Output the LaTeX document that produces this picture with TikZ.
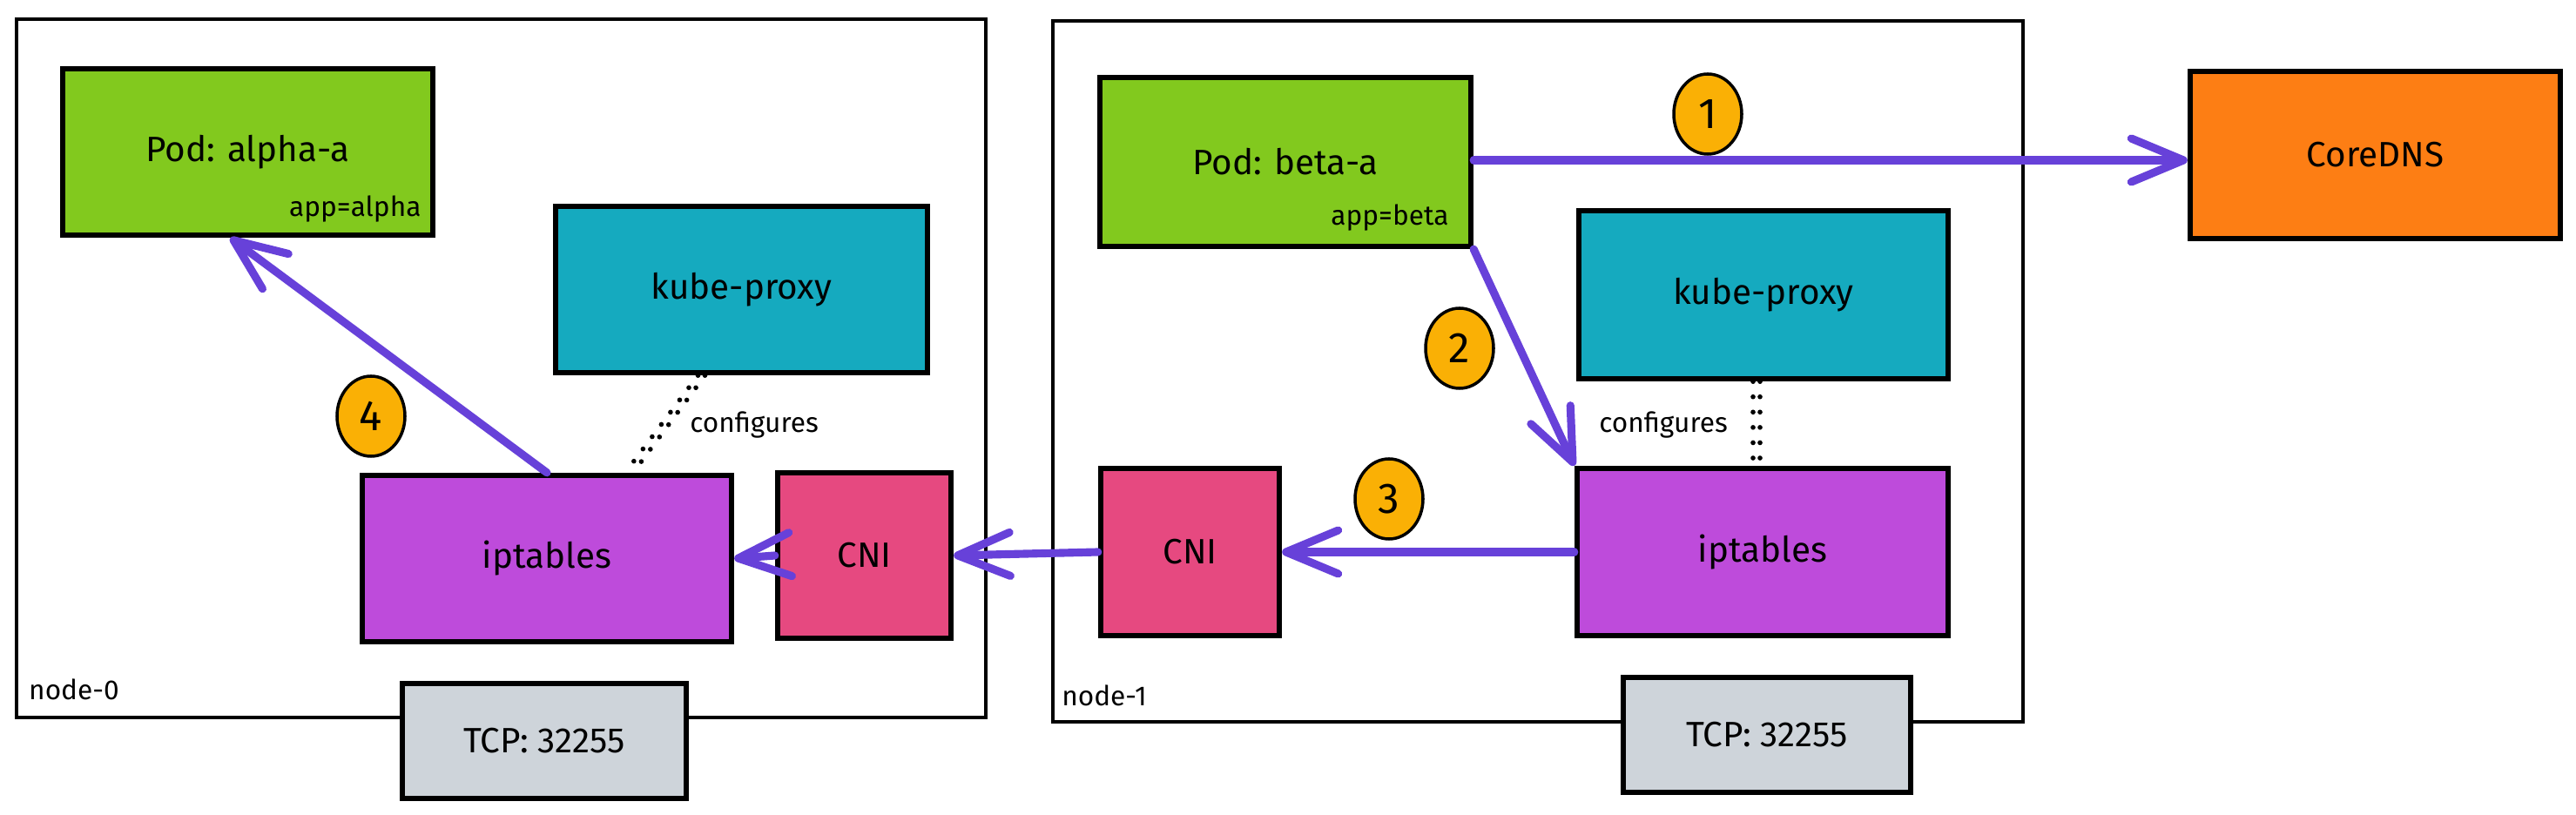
\documentclass[tikz,border=0pt]{standalone}
\usepackage{fontspec}
\setmainfont{Fira Sans}
\usetikzlibrary{arrows.meta,shapes.geometric}
\definecolor{podgreen}{HTML}{82C91E}
\definecolor{proxyteal}{HTML}{15AABF}
\definecolor{iptpurple}{HTML}{BE4BDB}
\definecolor{cnipink}{HTML}{E64980}
\definecolor{dnsorange}{HTML}{FD7E14}
\definecolor{portgray}{HTML}{CED4DA}
\definecolor{stepyellow}{HTML}{FAB005}
\definecolor{flowviolet}{HTML}{6741D9}

\begin{document}
\begin{tikzpicture}[
		hostbox/.style={draw, line width=1.2pt, inner sep=0pt},
		compbox/.style={draw, line width=1.8pt, inner sep=0pt, font=\fontsize{11.5}{14}\selectfont},
		smalltext/.style={inner sep=0pt, font=\fontsize{9}{11}\selectfont},
		badge/.style={ellipse, draw, line width=1pt, fill=stepyellow, minimum width=0.78cm, minimum height=0.92cm, inner sep=0pt, font=\fontsize{14}{16}\selectfont},
		flow/.style={line width=2.6pt, color=flowviolet, line cap=round, -{Straight Barb[round, length=6mm, width=5mm]}},
		configline/.style={line width=1.6pt, line cap=round, dash pattern=on 0pt off 5pt}
	]
			%%%%% START %%%%%
			\useasboundingbox (0, 0) rectangle (29.58, -9.36);
			
			% hosts
			\node[hostbox, minimum width=11.13cm, minimum height=8.02cm] (host0) at (5.755, -4.23) {};
			\node[hostbox, minimum width=11.14cm, minimum height=8.05cm] (host1) at (17.66, -4.265) {};
			\node[smalltext] (host0name) at (0.85, -7.92) {node-0};
			\node[smalltext] (host1name) at (12.68, -7.99) {node-1};
			
			% node-0
			\node[compbox, fill=podgreen, minimum width=4.25cm, minimum height=1.91cm] (palpha) at (2.845, -1.745) {Pod: alpha-a};
			\node[smalltext, anchor=south east] (lalpha) at ([shift={(-0.16, 0.17)}]palpha.south east) {app=alpha};
			\node[compbox, fill=proxyteal, minimum width=4.27cm, minimum height=1.91cm] (kubeL) at (8.515, -3.325) {kube-proxy};
			\node[compbox, fill=iptpurple, minimum width=4.24cm, minimum height=1.91cm] (iptL) at (6.28, -6.415) {iptables};
			\node[compbox, fill=cnipink, minimum width=1.99cm, minimum height=1.90cm] (cniL) at (9.925, -6.38) {CNI};
			\node[compbox, fill=portgray, minimum width=3.26cm, minimum height=1.32cm] (tcpL) at (6.25, -8.51) {TCP: 32255};
			
			% node-1
			\node[compbox, fill=podgreen, minimum width=4.26cm, minimum height=1.94cm] (pbeta) at (14.76, -1.86) {Pod: beta-a};
			\node[smalltext, anchor=south east] (lbeta) at ([shift={(-0.28, 0.2)}]pbeta.south east) {app=beta};
			\node[compbox, fill=proxyteal, minimum width=4.24cm, minimum height=1.93cm] (kubeR) at (20.25, -3.385) {kube-proxy};
			\node[compbox, fill=iptpurple, minimum width=4.26cm, minimum height=1.92cm] (iptR) at (20.24, -6.34) {iptables};
			\node[compbox, fill=cnipink, minimum width=2.05cm, minimum height=1.92cm] (cniR) at (13.665, -6.34) {CNI};
			\node[compbox, fill=portgray, minimum width=3.30cm, minimum height=1.32cm] (tcpR) at (20.29, -8.44) {TCP: 32255};
			
			\node[compbox, fill=dnsorange, minimum width=4.25cm, minimum height=1.92cm] (dns) at (27.275, -1.78) {CoreDNS};
			
			% kube-proxy writes the rules
			\draw[configline] ([xshift=-5mm]kubeL.south) -- ([xshift=9mm]iptL.north);
			\draw[configline] ([xshift=-4.2mm]kubeL.south) -- ([xshift=9.9mm]iptL.north);
			\node[smalltext] (cfgL) at (8.66, -4.88) {configures};
			\draw[configline] ([xshift=-1.2mm]kubeR.south) -- ([xshift=-1.2mm]kubeR.south |- iptR.north);
			\draw[configline] ([xshift=-0.4mm]kubeR.south) -- ([xshift=-0.4mm]kubeR.south |- iptR.north);
			\node[smalltext] (cfgR) at (19.1, -4.88) {configures};
			
			% packet path
			\draw[flow] ([yshift=0.2mm]pbeta.east) -- ([yshift=0.2mm]pbeta.east -| dns.west);
			\draw[flow] (pbeta.south east) -- (iptR.north west);
			\draw[flow] (iptR.west) -- (cniR.east);
			\draw[flow] (cniR.west) -- (cniL.east);
			\draw[flow] (cniL.west) -- (iptL.east);
			\draw[flow] (iptL.north) -- ([xshift=-2mm]palpha.south);
			
			% steps
			\node[badge] (s1) at (19.61, -1.31) {1};
			\node[badge] (s2) at (16.76, -4.0) {2};
			\node[badge] (s3) at (15.95, -5.73) {3};
			\node[badge] (s4) at (4.26, -4.78) {4};
			
			%%%%% END %%%%%
		\end{tikzpicture}
\end{document}
